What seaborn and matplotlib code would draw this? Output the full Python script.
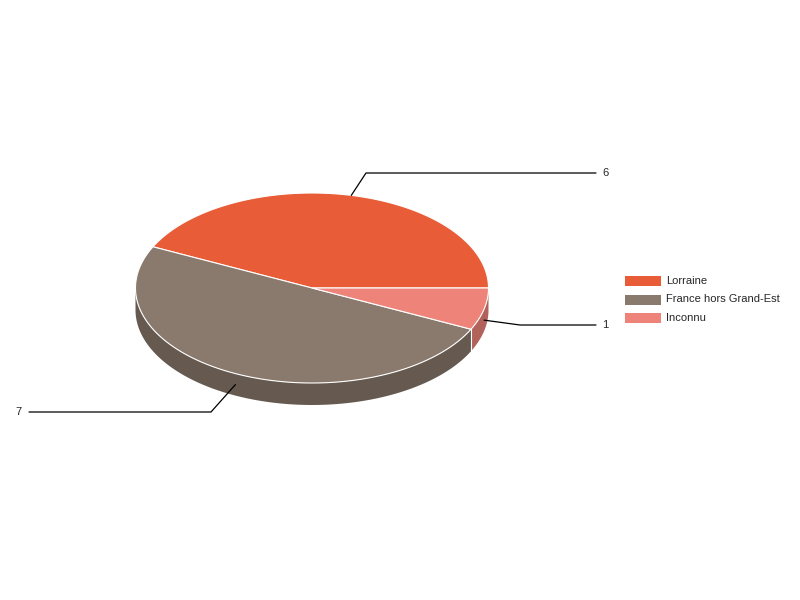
import numpy as np
import matplotlib
matplotlib.use('Agg')
import matplotlib.pyplot as plt
from matplotlib.patches import Polygon, Rectangle
import seaborn as sns

labels = ['Lorraine', 'France hors Grand-Est', 'Inconnu']
values = [6, 7, 1]
top_colors = ['#E85D37', '#8A7A6D', '#EE8479']
side_colors = ['#A8432A', '#665A50', '#B0625B']

sns.set_style('white')
plt.rcParams['font.family'] = ['Liberation Sans', 'DejaVu Sans']

fig = plt.figure(figsize=(8, 6), dpi=100)
ax = fig.add_axes([0, 0, 1, 1])
ax.set_xlim(0, 800)
ax.set_ylim(600, 0)
ax.axis('off')

cx, cy, rx, ry, depth = 312, 288, 176.5, 95, 22


def pt(t, dy=0):
    return cx + rx * np.cos(t), cy - ry * np.sin(t) + dy


frac = np.array(values) / sum(values)
bounds = np.concatenate([[0], np.cumsum(frac)]) * 2 * np.pi

# side walls (only the front half is visible)
for i in range(len(values)):
    a0, a1 = max(bounds[i], np.pi), max(bounds[i + 1], np.pi)
    if a1 <= a0:
        continue
    t = np.linspace(a0, a1, 100)
    xs, ys = pt(t)
    xb, yb = pt(t[::-1], depth)
    poly = Polygon(np.column_stack([np.r_[xs, xb], np.r_[ys, yb]]),
                   facecolor=side_colors[i], edgecolor='none', zorder=1)
    ax.add_patch(poly)
    if bounds[i] > np.pi:
        x0, y0 = pt(bounds[i])
        ax.plot([x0, x0], [y0, y0 + depth], color='white', lw=0.8, zorder=2)

# top wedges
for i in range(len(values)):
    t = np.linspace(bounds[i], bounds[i + 1], 200)
    xs, ys = pt(t)
    poly = Polygon(np.column_stack([np.r_[cx, xs], np.r_[cy, ys]]),
                   facecolor=top_colors[i], edgecolor='white', lw=0.8,
                   joinstyle='round', zorder=3)
    ax.add_patch(poly)

# leader lines and value labels
label_pos = [(596, 173), (29, 412), (596, 325)]
elbow = [(366, 173), (211, 412), (520, 325)]
for i in range(len(values)):
    mid = (bounds[i] + bounds[i + 1]) / 2
    x0, y0 = pt(mid, depth / 2 if np.sin(mid) < 0 else 0)
    ex, ey = elbow[i]
    lx, ly = label_pos[i]
    ax.plot([x0, ex, lx], [y0, ey, ly], color='black', lw=0.9, zorder=4)
    if lx > ex:
        ax.text(lx + 6, ly, str(values[i]), ha='left', va='center', fontsize=8)
    else:
        ax.text(lx - 7, ly, str(values[i]), ha='right', va='center', fontsize=8)

# legend
for i, lab in enumerate(labels):
    y = 281 + i * 18.5
    ax.add_patch(Rectangle((625, y - 5), 36, 10, facecolor=top_colors[i],
                           edgecolor='none', zorder=3))
    ax.text(666, y, lab, ha='left', va='center', fontsize=8)

fig.savefig('out.png', dpi=100)
